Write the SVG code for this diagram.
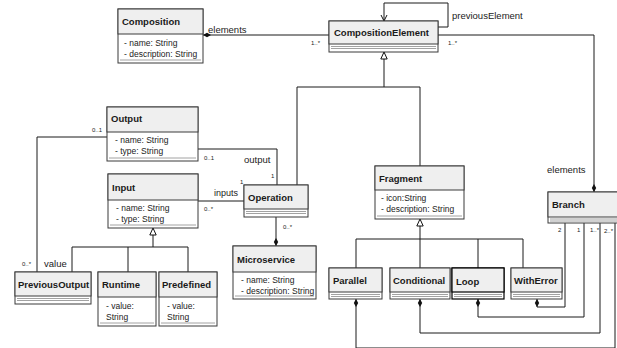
<svg xmlns="http://www.w3.org/2000/svg" width="617" height="348" viewBox="0 0 617 348">
<style>
.box{fill:#ffffff;stroke:#3a3a3a;stroke-width:1}
.hd{fill:#efefef;stroke:#3a3a3a;stroke-width:1}
.sep{stroke:#8a8a8a;stroke-width:0.8;fill:none}
.t{font-family:"Liberation Sans",Arial,sans-serif;font-weight:bold;font-size:9.5px;fill:#1a1a1a}
.a{font-family:"Liberation Sans",Arial,sans-serif;font-size:8.5px;fill:#222}
.l{font-family:"Liberation Sans",Arial,sans-serif;font-size:9.5px;fill:#222}
.m{font-family:"Liberation Sans",Arial,sans-serif;font-size:6px;fill:#222}
.c{fill:none;stroke:#1a1a1a;stroke-width:1}
</style>
<defs>
<marker id="dia" markerUnits="userSpaceOnUse" markerWidth="10" markerHeight="6" refX="0" refY="3" viewBox="0 0 10 6" orient="auto"><polygon points="0,3 4,0.8 8,3 4,5.2" fill="#111"/></marker>
<marker id="tri" markerUnits="userSpaceOnUse" markerWidth="9" markerHeight="8" refX="0.5" refY="4" viewBox="0 0 9 8" orient="auto"><polygon points="0.5,4 7.5,0.8 7.5,7.2" fill="#fff" stroke="#111" stroke-width="1"/></marker>
<marker id="arr" markerUnits="userSpaceOnUse" markerWidth="8" markerHeight="8" refX="7" refY="4" viewBox="0 0 8 8" orient="auto"><polyline points="1,1 7,4 1,7" fill="none" stroke="#111" stroke-width="1"/></marker>
</defs>

<g id="connectors">
<path class="c" d="M203,35 H329" marker-start="url(#dia)"/>
<path class="c" d="M438,27 H448 V3 H384 V21" marker-end="url(#arr)"/>
<path class="c" d="M594,192 V35 H438" marker-start="url(#dia)"/>
<path class="c" d="M384,52 V87" marker-start="url(#tri)"/>
<path class="c" d="M297,185 V87 H420 V166"/>
<path class="c" d="M107,137 H37 V272"/>
<path class="c" d="M198,149 H277 V185"/>
<path class="c" d="M198,201 H244"/>
<path class="c" d="M276,246 V217" marker-start="url(#dia)"/>
<path class="c" d="M153,228 V247" marker-start="url(#tri)"/>
<path class="c" d="M72,272 V247 H188 V272 M128,247 V272"/>
<path class="c" d="M420,219 V239" marker-start="url(#tri)"/>
<path class="c" d="M356,268 V239 H523 V268 M420,239 V268 M478,239 V268"/>
<path class="c" d="M537,299 V307 H565 V223" marker-start="url(#dia)"/>
<path class="c" d="M478,299 V317 H584 V223" marker-start="url(#dia)"/>
<path class="c" d="M420,299 V333 H600 V223" marker-start="url(#dia)"/>
<path class="c" d="M356,299 V348 H615 V223" marker-start="url(#dia)"/>
<text class="l" x="208" y="33">elements</text>
<text class="m" x="311" y="45">1..*</text>
<text class="m" x="448" y="45">1..*</text>
<text class="l" x="452" y="19">previousElement</text>
<text class="l" x="547" y="173">elements</text>
<text class="m" x="92" y="132">0..1</text>
<text class="m" x="22" y="266">0..*</text>
<text class="l" x="44" y="267">value</text>
<text class="m" x="204" y="160">0..1</text>
<text class="l" x="244" y="163">output</text>
<text class="m" x="271" y="178">1</text>
<text class="m" x="204" y="211">0..*</text>
<text class="l" x="214" y="196" style="font-size:9px">inputs</text>
<text class="m" x="240" y="184">1</text>
<text class="m" x="283" y="229">0..*</text>
<text class="m" x="558" y="232">2</text>
<text class="m" x="577" y="232">1</text>
<text class="m" x="590" y="232">1..*</text>
<text class="m" x="604" y="233">2..*</text>
</g>

<g id="Composition">
<rect class="box" x="118" y="9" width="85" height="54"/>
<rect class="hd" x="118" y="9" width="85" height="25"/>
<line class="sep" x1="120" y1="60" x2="201" y2="60"/>
<text class="t" x="122" y="25">Composition</text>
<text class="a" x="124" y="46">- name: String</text>
<text class="a" x="124" y="57">- description: String</text>
</g>

<g id="CompositionElement">
<rect class="box" x="329" y="21" width="109" height="31"/>
<rect class="hd" x="329" y="21" width="109" height="23"/>
<line class="sep" x1="331" y1="46.5" x2="436" y2="46.5"/>
<line class="sep" x1="331" y1="48.5" x2="436" y2="48.5"/>
<text class="t" x="334" y="36">CompositionElement</text>
</g>

<g id="Output">
<rect class="box" x="107" y="107" width="91" height="54"/>
<rect class="hd" x="107" y="107" width="91" height="25"/>
<line class="sep" x1="109" y1="158" x2="196" y2="158"/>
<text class="t" x="111" y="122">Output</text>
<text class="a" x="115" y="143">- name: String</text>
<text class="a" x="115" y="154">- type: String</text>
</g>

<g id="Input">
<rect class="box" x="108" y="174" width="90" height="54"/>
<rect class="hd" x="108" y="174" width="90" height="26"/>
<line class="sep" x1="110" y1="225" x2="196" y2="225"/>
<text class="t" x="112" y="191">Input</text>
<text class="a" x="116" y="211">- name: String</text>
<text class="a" x="116" y="222">- type: String</text>
</g>

<g id="Operation">
<rect class="box" x="244" y="185" width="64" height="32"/>
<rect class="hd" x="244" y="185" width="64" height="24"/>
<line class="sep" x1="246" y1="211.5" x2="306" y2="211.5"/>
<line class="sep" x1="246" y1="213.5" x2="306" y2="213.5"/>
<text class="t" x="248" y="201">Operation</text>
</g>

<g id="Microservice">
<rect class="box" x="233" y="246" width="83" height="53"/>
<rect class="hd" x="233" y="246" width="83" height="26"/>
<line class="sep" x1="235" y1="296" x2="314" y2="296"/>
<text class="t" x="237" y="263">Microservice</text>
<text class="a" x="241" y="283">- name: String</text>
<text class="a" x="241" y="294">- description: String</text>
</g>

<g id="PreviousOutput">
<rect class="box" x="15" y="272" width="76" height="32"/>
<rect class="hd" x="15" y="272" width="76" height="24"/>
<line class="sep" x1="17" y1="298.5" x2="89" y2="298.5"/>
<line class="sep" x1="17" y1="300.5" x2="89" y2="300.5"/>
<text class="t" x="18" y="288">PreviousOutput</text>
</g>

<g id="Runtime">
<rect class="box" x="98" y="272" width="58" height="54"/>
<rect class="hd" x="98" y="272" width="58" height="25"/>
<line class="sep" x1="100" y1="323" x2="154" y2="323"/>
<text class="t" x="102" y="288">Runtime</text>
<text class="a" x="106" y="309">- value:</text>
<text class="a" x="106" y="320">String</text>
</g>

<g id="Predefined">
<rect class="box" x="159" y="272" width="58" height="54"/>
<rect class="hd" x="159" y="272" width="58" height="25"/>
<line class="sep" x1="161" y1="323" x2="215" y2="323"/>
<text class="t" x="162" y="288">Predefined</text>
<text class="a" x="167" y="309">- value:</text>
<text class="a" x="167" y="320">String</text>
</g>

<g id="Fragment">
<rect class="box" x="375" y="166" width="89" height="53"/>
<rect class="hd" x="375" y="166" width="89" height="24"/>
<line class="sep" x1="377" y1="216" x2="462" y2="216"/>
<text class="t" x="379" y="182">Fragment</text>
<text class="a" x="381" y="201">- icon:String</text>
<text class="a" x="381" y="212">- description: String</text>
</g>

<g id="Parallel">
<rect class="box" x="329" y="268" width="53" height="31"/>
<rect class="hd" x="329" y="268" width="53" height="24"/>
<line class="sep" x1="331" y1="294.5" x2="380" y2="294.5"/>
<line class="sep" x1="331" y1="296.5" x2="380" y2="296.5"/>
<text class="t" x="333" y="284">Parallel</text>
</g>

<g id="Conditional">
<rect class="box" x="390" y="268" width="60" height="31"/>
<rect class="hd" x="390" y="268" width="60" height="24"/>
<line class="sep" x1="392" y1="294.5" x2="448" y2="294.5"/>
<line class="sep" x1="392" y1="296.5" x2="448" y2="296.5"/>
<text class="t" x="393" y="284">Conditional</text>
</g>

<g id="Loop">
<rect class="box" x="452" y="268" width="52" height="31" style="stroke:#000;stroke-width:1.2"/>
<rect class="hd" x="452" y="268" width="52" height="24" style="stroke:#000;stroke-width:1.2"/>
<line class="sep" x1="454" y1="294.5" x2="502" y2="294.5"/>
<line class="sep" x1="454" y1="296.5" x2="502" y2="296.5"/>
<text class="t" x="456" y="285">Loop</text>
</g>

<g id="WithError">
<rect class="box" x="511" y="268" width="51" height="31"/>
<rect class="hd" x="511" y="268" width="51" height="24"/>
<line class="sep" x1="513" y1="294.5" x2="560" y2="294.5"/>
<line class="sep" x1="513" y1="296.5" x2="560" y2="296.5"/>
<text class="t" x="514" y="284">WithError</text>
</g>

<g id="Branch">
<rect class="box" x="548" y="192" width="70" height="31"/>
<rect class="hd" x="548" y="192" width="70" height="25"/>
<line class="sep" x1="550" y1="219" x2="617" y2="219"/>
<line class="sep" x1="550" y1="221" x2="617" y2="221"/>
<text class="t" x="552" y="208">Branch</text>
</g>
</svg>
